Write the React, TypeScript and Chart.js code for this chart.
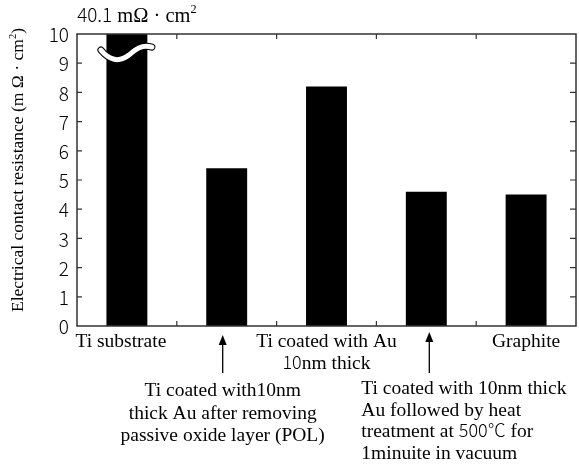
import React, { useEffect, useRef } from "react";
import { Chart, registerables } from "chart.js";

Chart.register(...registerables);

// Measured contact resistance, mΩ·cm²
const categories = ["Ti substrate", "Ti + Au (POL)", "Ti coated with Au 10nm thick", "Ti + Au + heat", "Graphite"];
const resistance = [40.1, 5.4, 8.2, 4.6, 4.5];
const yMin = 0;
const yMax = 10;
const yStep = 1;

type Run = { t: string; sans?: boolean; sup?: boolean };

// Labels under the axis; runs marked sans use the gothic digit face
const tickLabelLines: (Run[][] | null)[] = [
  [[{ t: "Ti substrate" }]],
  null,
  [[{ t: "Ti coated with Au" }], [{ t: "10", sans: true }, { t: "nm thick" }]],
  null,
  [[{ t: "Graphite" }]],
];

// Notes pointed at by arrows
const noteBars = [1, 3];
const noteLines: Run[][][] = [
  [
    [{ t: "Ti coated with10nm" }],
    [{ t: "thick Au after removing" }],
    [{ t: "passive oxide layer (POL)" }],
  ],
  [
    [{ t: "Ti coated with 10nm thick" }],
    [{ t: "Au followed by heat" }],
    [{ t: "treatment at " }, { t: "500℃", sans: true }, { t: " for" }],
    [{ t: "1minuite in vacuum" }],
  ],
];

const SERIF = '"Liberation Serif", "DejaVu Serif", serif';
const SANS = '"Noto Sans CJK JP", "DejaVu Sans", sans-serif';
const SERIF_SIZE = 19.5;
const SANS_SIZE = 18;

function runFont(r: Run, scale = 1) {
  const size = (r.sans ? SANS_SIZE : SERIF_SIZE) * scale * (r.sup ? 0.6 : 1);
  return r.sans ? `300 ${size}px ${SANS}` : `${size}px ${SERIF}`;
}

function runsWidth(ctx: CanvasRenderingContext2D, runs: Run[], scale = 1) {
  let w = 0;
  for (const r of runs) {
    ctx.font = runFont(r, scale);
    w += ctx.measureText(r.t).width;
  }
  return w;
}

function drawRuns(
  ctx: CanvasRenderingContext2D,
  runs: Run[],
  x: number,
  y: number,
  align: "left" | "center",
  scale = 1
) {
  let cx = align === "center" ? x - runsWidth(ctx, runs, scale) / 2 : x;
  ctx.textAlign = "left";
  ctx.textBaseline = "alphabetic";
  for (const r of runs) {
    ctx.font = runFont(r, scale);
    ctx.fillText(r.t, cx, r.sup ? y - SERIF_SIZE * scale * 0.42 : y);
    cx += ctx.measureText(r.t).width;
  }
}

const FRAME = "#333";

const framePlugin = {
  id: "frame",
  afterDatasetsDraw(chart: any) {
    const ctx: CanvasRenderingContext2D = chart.ctx;
    const { left, right, top, bottom } = chart.chartArea;
    const xs = chart.scales.x;
    const ys = chart.scales.y;
    ctx.save();

    // Break mark on the off-scale first bar
    const bx = xs.getPixelForValue(0);
    const by = ys.getPixelForValue(9.45);
    const wave = () => {
      ctx.beginPath();
      ctx.moveTo(bx - 26, by);
      ctx.bezierCurveTo(bx - 18, by + 10, bx - 8, by + 13, bx + 2, by + 5);
      ctx.bezierCurveTo(bx + 9, by - 1, bx + 15, by - 6, bx + 25, by - 3);
    };
    ctx.lineCap = "round";
    ctx.strokeStyle = "#000";
    ctx.lineWidth = 7;
    wave();
    ctx.stroke();
    ctx.strokeStyle = "#fff";
    ctx.lineWidth = 5;
    wave();
    ctx.stroke();

    // Frame with inward ticks on all four sides
    ctx.strokeStyle = FRAME;
    ctx.lineWidth = 1.5;
    ctx.lineCap = "butt";
    ctx.strokeRect(left, top, right - left, bottom - top);
    ctx.lineWidth = 1.2;
    ctx.beginPath();
    for (let v = yMin + yStep; v < yMax; v += yStep) {
      const y = ys.getPixelForValue(v);
      ctx.moveTo(left, y);
      ctx.lineTo(left + 5, y);
      ctx.moveTo(right, y);
      ctx.lineTo(right - 6, y);
    }
    for (let i = 0; i < categories.length - 1; i++) {
      const x = (xs.getPixelForValue(i) + xs.getPixelForValue(i + 1)) / 2;
      ctx.moveTo(x, bottom);
      ctx.lineTo(x, bottom - 5);
      ctx.moveTo(x, top);
      ctx.lineTo(x, top + 5);
    }
    ctx.stroke();

    // Value-axis numbers
    ctx.fillStyle = "#000";
    ctx.font = `300 19px ${SANS}`;
    ctx.textAlign = "right";
    ctx.textBaseline = "middle";
    ys.ticks.forEach((t: any) => {
      ctx.fillText(String(t.value), left - 8, ys.getPixelForValue(t.value) + 1);
    });
    ctx.restore();
  },
  afterDraw(chart: any) {
    const ctx: CanvasRenderingContext2D = chart.ctx;
    const { top, bottom } = chart.chartArea;
    const xs = chart.scales.x;
    ctx.save();
    ctx.fillStyle = "#000";
    ctx.strokeStyle = "#000";

    // Value of the off-scale bar above the frame
    const vx = xs.getPixelForValue(0) + 10;
    drawRuns(
      ctx,
      [
        { t: String(resistance[0]), sans: true },
        { t: " mΩ · cm" },
        { t: "2", sup: true },
      ],
      vx,
      top - 12,
      "center",
      1.05
    );

    // Category labels
    tickLabelLines.forEach((lines, i) => {
      if (!lines) return;
      const cx = xs.getPixelForValue(i) + (i === 0 ? -6 : 0);
      lines.forEach((runs, k) => drawRuns(ctx, runs, cx, bottom + 21 + k * 22, "center"));
    });

    // Arrows with notes
    noteBars.forEach((bi, n) => {
      const ax = xs.getPixelForValue(bi) + (n === 0 ? -4 : 3);
      const tipY = bottom + (n === 0 ? 9 : 6);
      ctx.lineWidth = 1.3;
      ctx.beginPath();
      ctx.moveTo(ax, tipY + 6);
      ctx.lineTo(ax, bottom + 47);
      ctx.stroke();
      ctx.beginPath();
      ctx.moveTo(ax, tipY);
      ctx.lineTo(ax - 4, tipY + 10);
      ctx.lineTo(ax + 4, tipY + 10);
      ctx.closePath();
      ctx.fill();
      const lines = noteLines[n];
      if (n === 0) {
        lines.forEach((runs, k) => drawRuns(ctx, runs, ax, bottom + 70 + k * 22.5, "center"));
      } else {
        lines.forEach((runs, k) => drawRuns(ctx, runs, ax - 68, bottom + 68 + k * 21.5, "left"));
      }
    });

    // Rotated axis title with superscript
    ctx.translate(23, (top + bottom) / 2 - 10);
    ctx.rotate(-Math.PI / 2);
    drawRuns(
      ctx,
      [{ t: "Electrical contact resistance (m Ω · cm" }, { t: "2", sup: true }, { t: ")" }],
      0,
      0,
      "center",
      0.9
    );
    ctx.restore();
  },
};

export default function App() {
  const ref = useRef<HTMLCanvasElement | null>(null);

  useEffect(() => {
    document.body.style.margin = "0";
    const canvas = ref.current;
    if (!canvas) return;
    const chart = new Chart(canvas, {
      type: "bar",
      data: {
        labels: categories,
        datasets: [
          {
            data: resistance,
            backgroundColor: "#000",
            borderWidth: 0,
            barPercentage: 0.41,
            categoryPercentage: 1,
          },
        ],
      },
      options: {
        responsive: false,
        animation: false,
        devicePixelRatio: 1,
        layout: { padding: { top: 34, right: 3, left: 0, bottom: 0 } },
        plugins: { legend: { display: false }, tooltip: { enabled: false } },
        scales: {
          x: {
            grid: { display: false },
            border: { display: false },
            ticks: { display: false },
            afterFit: (s: any) => {
              s.height = 141;
            },
          },
          y: {
            min: yMin,
            max: yMax,
            grid: { display: false, drawTicks: false },
            border: { display: false },
            ticks: { stepSize: yStep, display: false },
            afterFit: (s: any) => {
              s.width = 77;
            },
          },
        },
      },
      plugins: [framePlugin],
    });
    return () => chart.destroy();
  }, []);

  return <canvas ref={ref} width={579} height={467} style={{ display: "block" }} />;
}
